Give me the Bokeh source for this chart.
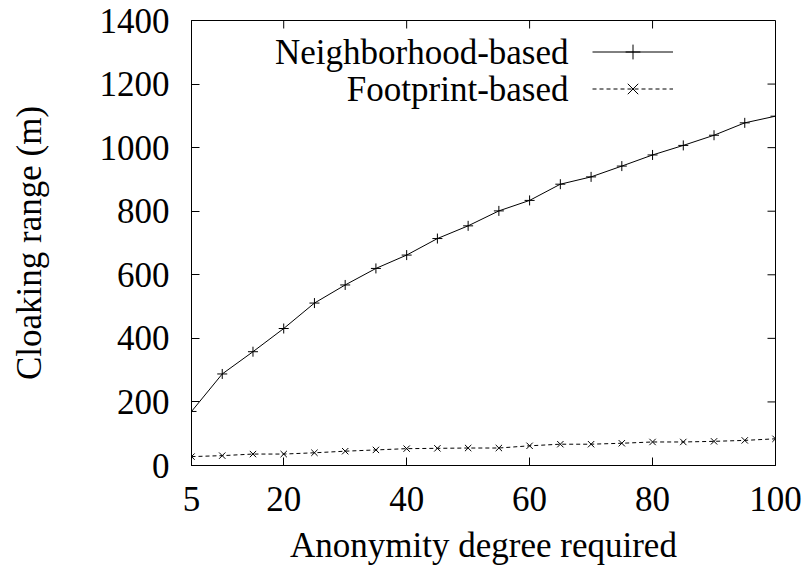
import math
from bokeh.plotting import figure
from bokeh.models import Range1d, FixedTicker, Legend, LegendItem, Label
from bokeh.embed import file_html
from bokeh.resources import INLINE

# ---- data ----
degree = [5, 10, 15, 20, 25, 30, 35, 40, 45, 50, 55, 60, 65, 70, 75, 80, 85, 90, 95, 100]
neighborhood = [170, 288, 358, 431, 511, 568, 620, 662, 714, 754, 801, 834, 885, 908, 942, 977, 1007, 1039, 1078, 1099]
footprint = [28, 31, 36, 36, 40, 45, 49, 53, 54, 55, 55, 62, 67, 67, 70, 74, 74, 76, 79, 84]
series_names = ["Neighborhood-based", "Footprint-based"]
x_ticks = [5, 20, 40, 60, 80, 100]
y_ticks = [0, 200, 400, 600, 800, 1000, 1200, 1400]
x_title = "Anonymity degree required"
y_title = "Cloaking range (m)"

FONT = "Liberation Serif"
FS = "35px"

p = figure(width=809, height=575, output_backend="svg", toolbar_location=None,
           x_range=Range1d(x_ticks[0], x_ticks[-1]), y_range=Range1d(y_ticks[0], y_ticks[-1]),
           min_border_left=191, min_border_right=34, min_border_top=20, min_border_bottom=110)
p.xgrid.visible = False
p.ygrid.visible = False
p.outline_line_color = "black"
p.outline_line_width = 1
p.outline_line_alpha = 1
p.background_fill_color = "white"
p.border_fill_color = "white"

def style_axis(ax, ticks, standoff):
    ax.ticker = FixedTicker(ticks=ticks)
    ax.major_tick_in = 8
    ax.major_tick_out = 0
    ax.minor_tick_in = 0
    ax.minor_tick_out = 0
    ax.major_tick_line_color = "black"
    ax.axis_line_color = "black"
    ax.major_label_text_font = FONT
    ax.major_label_text_font_size = FS
    ax.major_label_text_color = "black"
    ax.major_label_standoff = standoff
    ax.axis_label_text_font = FONT
    ax.axis_label_text_font_size = FS
    ax.axis_label_text_font_style = "normal"
    ax.axis_label_text_color = "black"

xa = p.xaxis[0]
ya = p.yaxis[0]
style_axis(xa, x_ticks, 21)
style_axis(ya, y_ticks, 22)
xa.axis_label = x_title
ya.axis_label = y_title
xa.axis_label_standoff = 12
ya.axis_label_standoff = 48

# mirrored ticks on top and right (inward)
p.ray(x=x_ticks, y=[y_ticks[-1]] * len(x_ticks), length=8, length_units="screen",
      angle=-math.pi / 2, line_color="black", line_width=1)
p.ray(x=[x_ticks[-1]] * len(y_ticks), y=y_ticks, length=8, length_units="screen",
      angle=math.pi, line_color="black", line_width=1)

l1 = p.line(degree, neighborhood, line_color="black", line_width=1)
s1 = p.scatter(degree, neighborhood, marker="cross", size=10, line_color="black", line_width=1)
l2 = p.line(degree, footprint, line_color="black", line_width=1, line_dash="4 3")
s2 = p.scatter(degree, footprint, marker="x", size=9, line_color="black", line_width=1)

legend = Legend(items=[LegendItem(label=" ", renderers=[l1, s1]),
                       LegendItem(label=" ", renderers=[l2, s2])],
                location=(401, 358), glyph_width=81, glyph_height=37, spacing=0,
                padding=0, margin=0, border_line_color=None, background_fill_alpha=0,
                label_text_font_size="1px", label_height=1, label_standoff=0)
p.add_layout(legend)

for name, yy in zip(series_names, (413, 376)):
    p.add_layout(Label(x=377, y=yy, x_units="screen", y_units="screen", text=name,
                       text_align="right", text_baseline="middle",
                       text_font=FONT, text_font_size=FS, text_color="black"))

open("out.html", "w").write(file_html(p, INLINE))
